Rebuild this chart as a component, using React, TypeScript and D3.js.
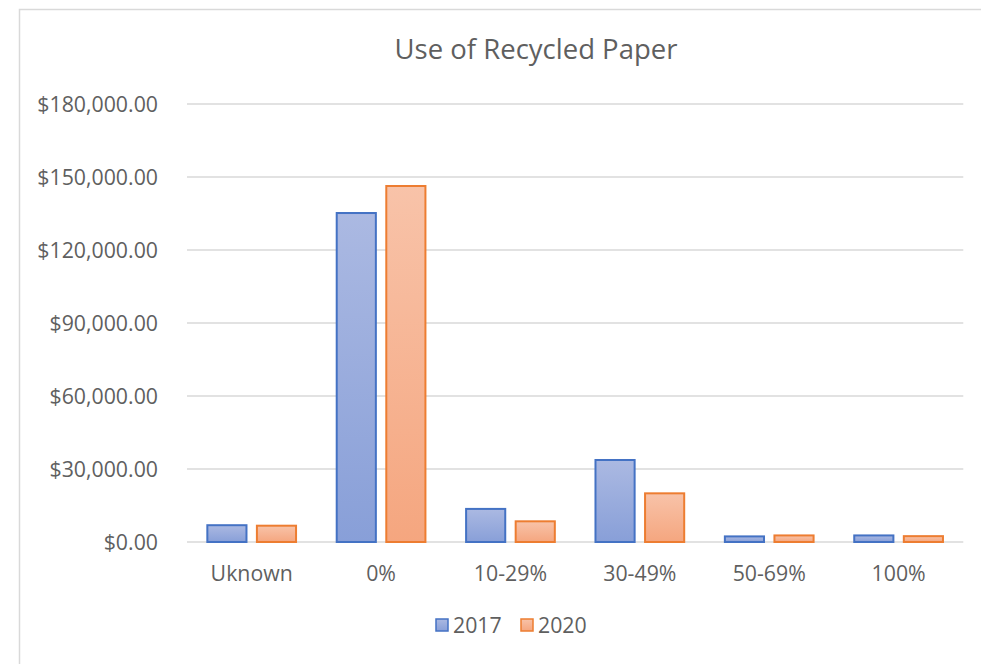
import React from "react";
import * as d3 from "d3";

const categories = ["Uknown", "0%", "10-29%", "30-49%", "50-69%", "100%"];
const seriesNames = ["2017", "2020"];
const values2017 = [6900, 135200, 13600, 33700, 2300, 2700];
const values2020 = [6700, 146300, 8500, 20000, 2700, 2400];
const yTicks = [0, 30000, 60000, 90000, 120000, 150000, 180000];

const W = 981;
const H = 664;
const FONT = "'Open Sans', sans-serif";
const TEXT = "#5f5f5f";

export default function App() {
  const plotLeft = 187;
  const plotRight = 963.3;
  const plotTop = 104;
  const plotBottom = 542;

  const x0 = d3.scaleBand<string>().domain(categories).range([plotLeft, plotRight]).padding(0);
  const x1 = d3
    .scaleBand<string>()
    .domain(seriesNames)
    .range([0, x0.bandwidth()])
    .paddingInner(0.17)
    .paddingOuter(0.39);
  const y = d3.scaleLinear().domain([0, 180000]).range([plotBottom, plotTop]);
  const fmt = (v: number) => "$" + d3.format(",.2f")(v);

  const series = [
    { name: seriesNames[0], values: values2017, stroke: "#4472C4", grad: "g2017" },
    { name: seriesNames[1], values: values2020, stroke: "#ED7D31", grad: "g2020" },
  ];

  return (
    <svg
      width={W}
      height={H}
      style={{ position: "absolute", left: 0, top: 0, display: "block", background: "#fff" }}
      fontFamily={FONT}
    >
      <defs>
        <linearGradient id="g2017" x1="0" y1="0" x2="0" y2="1">
          <stop offset="0%" stopColor="#ABB9E2" />
          <stop offset="100%" stopColor="#889FD8" />
        </linearGradient>
        <linearGradient id="g2020" x1="0" y1="0" x2="0" y2="1">
          <stop offset="0%" stopColor="#F8C3A9" />
          <stop offset="100%" stopColor="#F5A67F" />
        </linearGradient>
      </defs>
      <rect x={0} y={0} width={W} height={H} fill="#fff" />
      <path d={`M19.5,${H} V9.5 H${W}`} fill="none" stroke="#D9D9D9" strokeWidth={1.5} />
      <text x={536} y={59} textAnchor="middle" fontSize={27.5} fill={TEXT}>
        Use of Recycled Paper
      </text>
      {yTicks.map((t) => (
        <g key={t}>
          <line x1={plotLeft} x2={plotRight} y1={y(t)} y2={y(t)} stroke="#D9D9D9" strokeWidth={1.3} />
          <text x={158} y={y(t)} dy="0.36em" textAnchor="end" fontSize={21.3} fill={TEXT}>
            {fmt(t)}
          </text>
        </g>
      ))}
      {categories.map((c, i) => (
        <g key={c}>
          {series.map((s) => {
            const bx = (x0(c) as number) + (x1(s.name) as number);
            const by = y(s.values[i]);
            return (
              <rect
                key={s.name}
                x={bx + 1}
                y={by}
                width={x1.bandwidth() - 2}
                height={plotBottom - by}
                fill={`url(#${s.grad})`}
                stroke={s.stroke}
                strokeWidth={2}
              />
            );
          })}
          <text
            x={(x0(c) as number) + x0.bandwidth() / 2}
            y={581}
            textAnchor="middle"
            fontSize={21.3}
            fill={TEXT}
          >
            {c}
          </text>
        </g>
      ))}
      {series.map((s, i) => {
        const lx = i === 0 ? 435 : 520;
        return (
          <g key={s.name}>
            <rect x={lx + 1} y={619} width={12} height={12} fill={`url(#${s.grad})`} stroke={s.stroke} strokeWidth={1.5} />
            <text x={lx + 18} y={633} fontSize={21.3} fill={TEXT}>
              {s.name}
            </text>
          </g>
        );
      })}
    </svg>
  );
}
